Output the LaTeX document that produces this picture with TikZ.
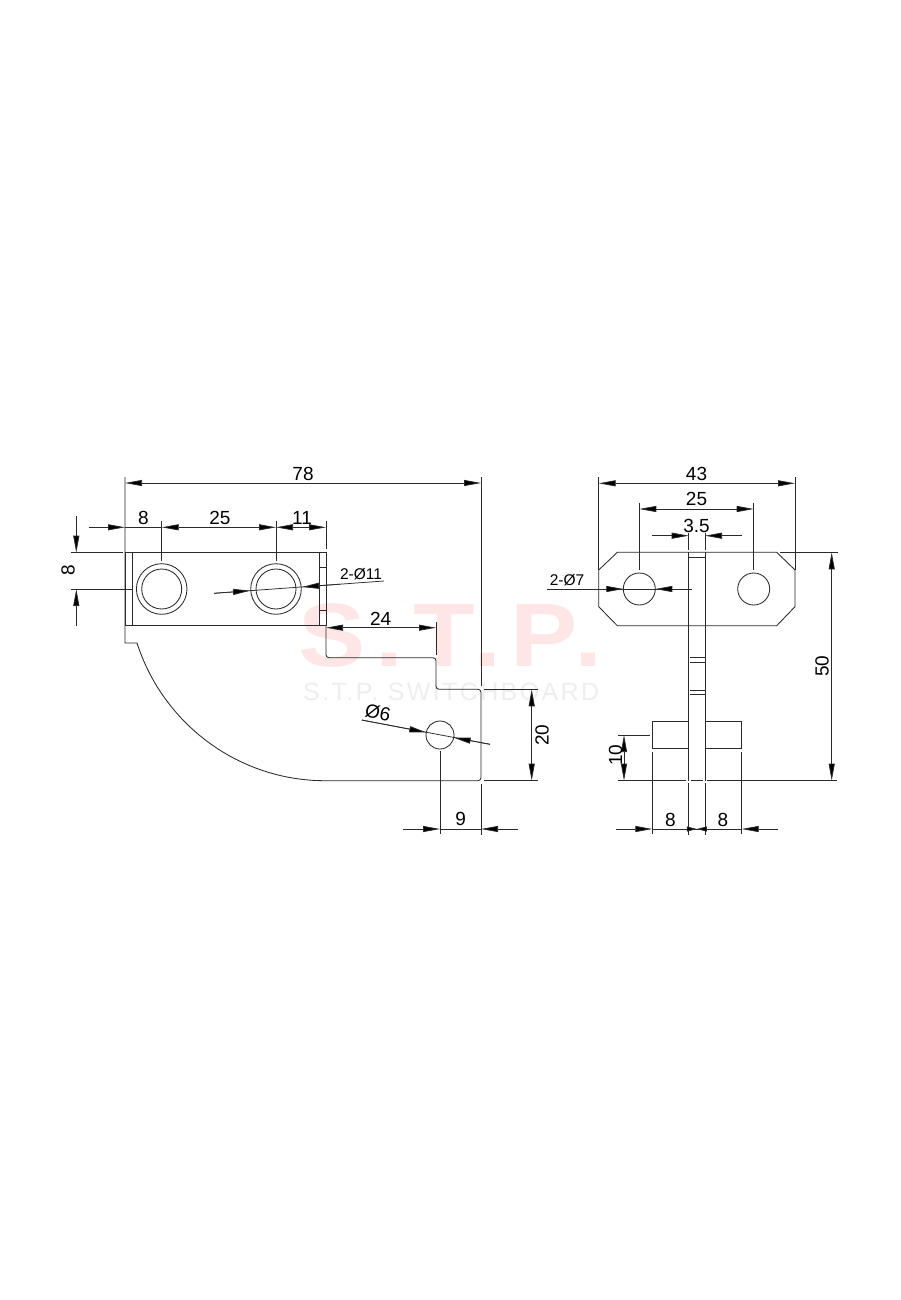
\documentclass[tikz,border=0pt]{standalone}
\usepackage{graphicx}
\usepackage{fontspec}
\setmainfont{Liberation Sans}
\newfontfamily\wma[LetterSpace=9.5]{Liberation Sans}
\newfontfamily\wmb[LetterSpace=9.5]{Liberation Sans}
\usetikzlibrary{arrows.meta}
\definecolor{ink}{HTML}{2A2A2A}
\definecolor{wmpink}{HTML}{FFE6E6}
\definecolor{wmgray}{HTML}{EEEEEE}
\tikzset{
  outline/.style={line width=.85pt,draw=ink},
  dimline/.style={line width=.75pt,draw=ink},
  tip/.style={{Triangle[length=17pt,width=6pt,fill=black]}-{Triangle[length=17pt,width=6pt,fill=black]}},
  tipend/.style={-{Triangle[length=17pt,width=6pt,fill=black]}},
  shorttip/.style={-{Triangle[length=10pt,width=5pt,fill=black]}},
  lbl/.style={inner sep=0pt,font=\fontsize{19}{19}\selectfont,text=black},
  smalllbl/.style={inner sep=0pt,font=\fontsize{15.5}{15.5}\selectfont,text=black},
}
\begin{document}
\begin{tikzpicture}[x=1pt,y=-1pt]
\useasboundingbox[fill=white] (0,0) rectangle (900,1300);
% watermark
\node[anchor=base west,inner sep=0pt,text=wmpink,font=\wma\bfseries\fontsize{90}{90}\selectfont] (wmA) at (298.5,666.5) {\scalebox{1.12}[1]{S.T.P.}};
\node[anchor=base west,inner sep=0pt,text=wmgray,font=\wmb\fontsize{25}{25}\selectfont] (wmB) at (303,700) {S.T.P. SWITCHBOARD};

% ---------- left view ----------
\draw[outline] (125,552.7) rectangle (326,625.7);
\draw[outline] (132.3,552.7) -- (132.3,625.7);
\draw[outline] (319.3,552.7) -- (319.3,625.7);
\draw[outline] (319.3,567.7) -- (326,567.7);
\draw[outline] (319.3,610) -- (326,610);
\foreach \cx in {161.7,276}{
  \draw[outline] (\cx,589) circle[radius=25.3];
  \draw[outline] (\cx,589) circle[radius=20];
}
\draw[outline] (125,477) -- (125,643) -- (137,643)
  .. controls (163.3,724.7) and (239.2,780.7) .. (325,780.7);
\draw[outline,rounded corners=3pt] (325,780.7) -- (481,780.7) -- (481,689.3) -- (436,689.3) -- (436,657.7) -- (326,657.7) -- (326,625.7);
\draw[dimline] (481,477) -- (481,686);
\draw[dimline] (481,784) -- (481,835);
\draw[dimline] (436,622) -- (436,655);
\draw[dimline] (484,689.3) -- (537.7,689.3);
\draw[dimline] (484,780.7) -- (537.7,780.7);
\draw[outline] (440,735) circle[radius=14];

% extensions
\draw[dimline] (161.7,521) -- (161.7,561);
\draw[dimline] (276,521) -- (276,561);
\draw[dimline] (326,521) -- (326,549);
\draw[dimline] (70.7,552.7) -- (122.7,552.7);
\draw[dimline] (70.7,589) -- (133,589);
\draw[dimline] (440,750.7) -- (440,834);

% dimensions
\draw[dimline,tip] (125,483) -- (481,483);
\node[lbl] (d78) at (303,473.5) {78};
\draw[dimline,tipend] (88.7,527.3) -- (125,527.3);
\draw[dimline] (125,527.3) -- (161.7,527.3);
\draw[dimline,tip] (161.7,527.3) -- (276,527.3);
\draw[dimline,tip] (276,527.3) -- (326,527.3);
\node[lbl] (d8a) at (143.5,518) {8};
\node[lbl] (d25a) at (220,518) {25};
\node[lbl] (d11) at (302,518) {11};
\draw[dimline,tipend] (76.3,516) -- (76.3,552.7);
\draw[dimline,tipend] (76.3,625.7) -- (76.3,589);
\node[lbl,rotate=90] (d8v) at (68,570.5) {8};
\draw[dimline] (214,593.3) -- (384,581);
\draw[dimline,tipend] (214,593.3) -- (250,590.7);
\draw[dimline,tipend] (340,584.2) -- (302,587);
\node[smalllbl] (d211) at (361,574.5) {2-Ø11};
\draw[dimline,tip] (326,627.7) -- (436,627.7);
\node[lbl] (d24) at (380.7,618.7) {24};
\draw[dimline] (361.7,720) -- (490,744.3);
\draw[dimline,tipend] (361.7,720) -- (426.3,732.4);
\draw[dimline,tipend] (490,744.3) -- (453.7,737.6);
\node[lbl,rotate=-12] (d6) at (378,713) {Ø6};
\draw[dimline,tip] (531.7,689.3) -- (531.7,780.7);
\node[lbl,rotate=90] (d20) at (542,735) {20};
\draw[dimline,tipend] (403.3,829) -- (440,829);
\draw[dimline,tipend] (517.7,829) -- (481,829);
\draw[dimline] (440,829) -- (481,829);
\node[lbl] (d9) at (460.7,819) {9};

% ---------- right view ----------
\draw[outline] (617.3,552.3) -- (776.7,552.3) -- (795,570) -- (795,606.7) -- (776.7,625.7) -- (617.3,625.7) -- (598.7,606.7) -- (598.7,570) -- cycle;
\foreach \cx in {639.3,753.7}{
  \draw[outline] (\cx,589) circle[radius=16];
}
\draw[outline] (688.7,552.3) -- (688.7,780.7);
\draw[outline] (705,552.3) -- (705,780.7);
\draw[outline] (688.7,557.7) -- (705,557.7);
\foreach \ty in {657.7,662.3,690,694}{
  \draw[outline] (689.5,\ty) -- (704.5,\ty);
}
\draw[outline] (688.7,721) -- (652.3,721) -- (652.3,748.7) -- (688.7,748.7);
\draw[outline] (705,721) -- (741.7,721) -- (741.7,748.7) -- (705,748.7);
% extensions
\draw[dimline] (598.7,477) -- (598.7,570);
\draw[dimline] (795,477) -- (795,570);
\draw[dimline] (639.3,502.7) -- (639.3,570);
\draw[dimline] (753.7,502.7) -- (753.7,570);
\draw[dimline] (688.7,532.7) -- (688.7,550);
\draw[dimline] (705,532.7) -- (705,550);
\draw[dimline] (780,552.3) -- (837.7,552.3);
\draw[dimline] (618,780.7) -- (686,780.7);
\draw[dimline] (690.7,780.7) -- (703,780.7);
\draw[dimline] (707,780.7) -- (837,780.7);
\draw[dimline] (618,735) -- (650,735);
\draw[dimline] (652.3,751.7) -- (652.3,834);
\draw[dimline] (741.7,751.7) -- (741.7,834);
\draw[dimline] (688.7,783) -- (688.7,835);
\draw[dimline] (705,783) -- (705,835);
% dimensions
\draw[dimline,tip] (598.7,483.3) -- (795,483.3);
\node[lbl] (d43) at (696.5,473.5) {43};
\draw[dimline,tip] (639.3,509) -- (753.7,509);
\node[lbl] (d25b) at (696.5,499) {25};
\draw[dimline,tipend] (652.3,535.7) -- (688.7,535.7);
\draw[dimline,tipend] (741.7,535.7) -- (705,535.7);
\node[lbl] (d35) at (696.5,526) {3.5};
\draw[dimline] (547.3,589) -- (692.3,589);
\draw[dimline,tipend] (590,589) -- (623.3,589);
\draw[dimline,tipend] (690,589) -- (655.3,589);
\node[smalllbl] (d27) at (567,580.5) {2-Ø7};
\draw[dimline,tip] (831.7,552.3) -- (831.7,780.7);
\node[lbl,rotate=90] (d50) at (822,666) {50};
\draw[dimline,tip] (624,735) -- (624,780.7);
\node[lbl,rotate=90] (d10) at (615.5,755) {10};
\draw[dimline,tipend] (615.7,829) -- (652.3,829);
\draw[dimline] (652.3,829) -- (741.7,829);
\draw[dimline,shorttip] (686.8,829) -- (696.8,829);
\draw[dimline,shorttip] (706.8,829) -- (696.8,829);
\draw[dimline,tipend] (777.7,829) -- (741.7,829);
\node[lbl] (d8b) at (670.5,820) {8};
\node[lbl] (d8c) at (723,820) {8};
\end{tikzpicture}
\end{document}
